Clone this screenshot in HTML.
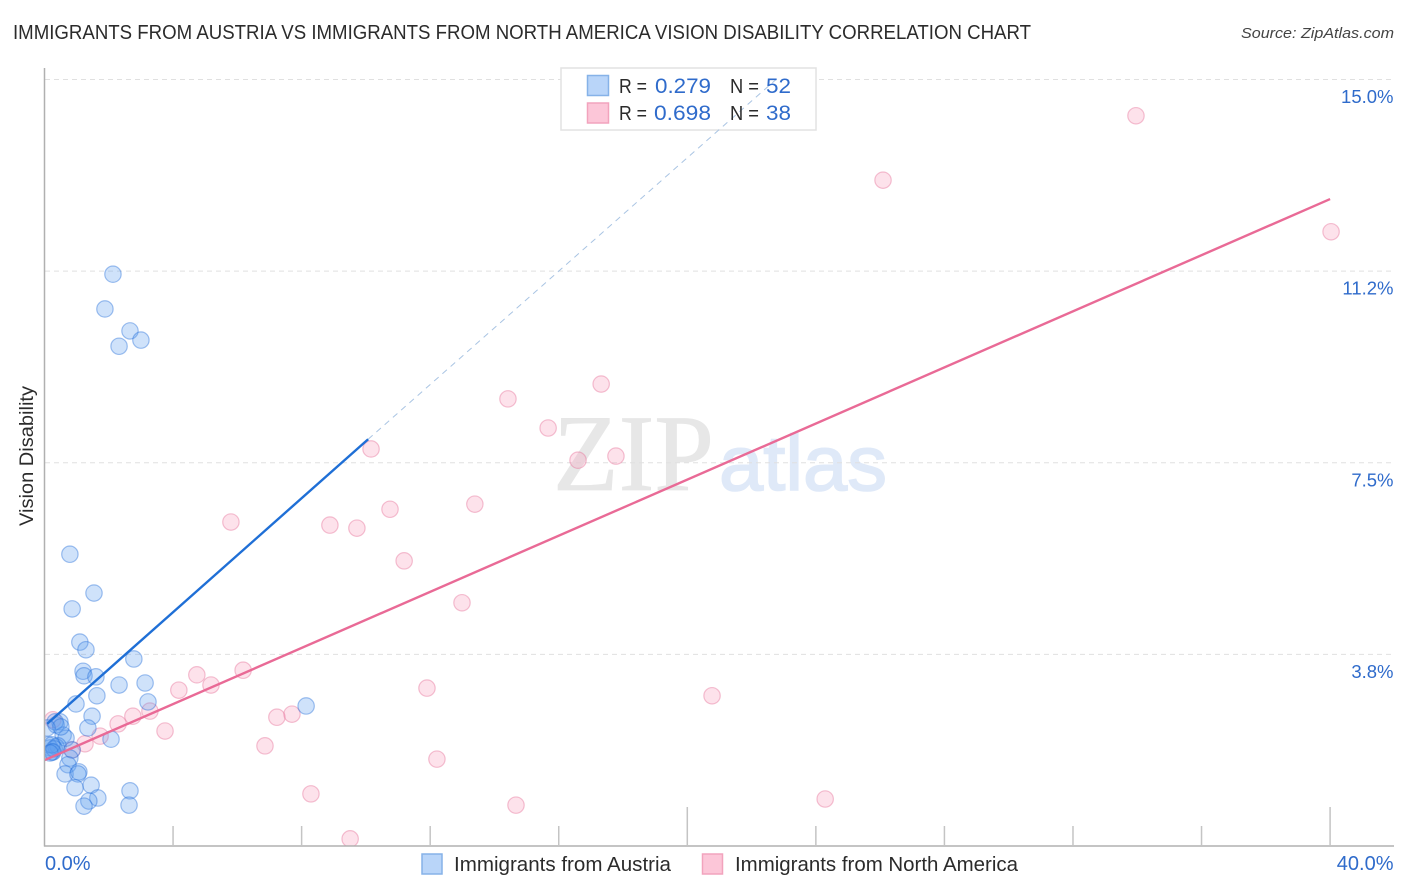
<!DOCTYPE html>
<html lang="en">
<head>
<meta charset="utf-8">
<title>Vision Disability Correlation Chart</title>
<style>
html,body{margin:0;padding:0;background:#fff;}
body{width:1406px;height:892px;overflow:hidden;}
svg{display:block;font-family:"Liberation Sans",sans-serif;}
</style>
</head>
<body>
<svg id="chart" xmlns="http://www.w3.org/2000/svg" width="1406" height="892" viewBox="0 0 1406 892">
  <defs>
    <clipPath id="plot-clip"><rect x="45" y="60" width="1349" height="786"></rect></clipPath>
  </defs>
  <rect x="0" y="0" width="1406" height="892" fill="#ffffff"></rect>
  <text x="13" y="39" font-size="20" fill="#2b2b2b" textLength="1018" lengthAdjust="spacingAndGlyphs">IMMIGRANTS FROM AUSTRIA VS IMMIGRANTS FROM NORTH AMERICA VISION DISABILITY CORRELATION CHART</text>
  <text x="1241" y="38" font-size="15" font-style="italic" fill="#444444" textLength="153" lengthAdjust="spacingAndGlyphs">Source: ZipAtlas.com</text>
  <g id="watermark">
    <text x="553" y="490" font-family="'Liberation Serif',serif" font-size="109" fill="#e7e7e7" stroke="#e7e7e7" stroke-width="0.8" textLength="161" lengthAdjust="spacingAndGlyphs">ZIP</text>
    <text x="719" y="490" font-size="78" fill="#dfe9f8" stroke="#dfe9f8" stroke-width="1.6" textLength="168" lengthAdjust="spacingAndGlyphs">atlas</text>
  </g>
  <g id="grid"></g>
  <rect x="561" y="68" width="255" height="62" fill="#ffffff" stroke="#e2e2e2" stroke-width="1.5"></rect>
  <g id="trend"></g>
  <g id="points" clip-path="url(#plot-clip)"></g>
  <g id="axes"></g>
  <text transform="translate(33 456) rotate(-90)" text-anchor="middle" font-size="19" fill="#2b2b2b" textLength="140" lengthAdjust="spacingAndGlyphs">Vision Disability</text>

  <g>
    <rect x="587.5" y="75.5" width="21" height="20" fill="#b9d5f9" stroke="#86b2e8" stroke-width="1.5"></rect>
    <text x="619" y="93" font-size="20" fill="#2b2b2b" textLength="28" lengthAdjust="spacingAndGlyphs">R =</text>
    <text x="655" y="93" font-size="21" fill="#2f6bcb" textLength="56" lengthAdjust="spacingAndGlyphs">0.279</text>
    <text x="730" y="93" font-size="20" fill="#2b2b2b" textLength="29" lengthAdjust="spacingAndGlyphs">N =</text>
    <text x="766" y="93" font-size="21" fill="#2f6bcb" textLength="25" lengthAdjust="spacingAndGlyphs">52</text>
    <rect x="587.5" y="103" width="21" height="20" fill="#fcc6d8" stroke="#f2a3bd" stroke-width="1.5"></rect>
    <text x="619" y="120" font-size="20" fill="#2b2b2b" textLength="28" lengthAdjust="spacingAndGlyphs">R =</text>
    <text x="654" y="120" font-size="21" fill="#2f6bcb" textLength="57" lengthAdjust="spacingAndGlyphs">0.698</text>
    <text x="730" y="120" font-size="20" fill="#2b2b2b" textLength="29" lengthAdjust="spacingAndGlyphs">N =</text>
    <text x="766" y="120" font-size="21" fill="#2f6bcb" textLength="25" lengthAdjust="spacingAndGlyphs">38</text>
  </g>

  <g>
    <rect x="422" y="854" width="20" height="20" fill="#b9d5f9" stroke="#86b2e8" stroke-width="1.5"></rect>
    <text x="454" y="871" font-size="20" fill="#2b2b2b" textLength="217" lengthAdjust="spacingAndGlyphs">Immigrants from Austria</text>
    <rect x="702.5" y="854" width="20" height="20" fill="#fcc6d8" stroke="#f2a3bd" stroke-width="1.5"></rect>
    <text x="735" y="871" font-size="20" fill="#2b2b2b" textLength="283" lengthAdjust="spacingAndGlyphs">Immigrants from North America</text>
  </g>
</svg>
<script>
const austriaX = [2.13,1.88,2.66,3.00,2.32,0.79,1.54,0.86,1.10,1.29,2.78,1.20,1.23,1.60,2.32,3.13,1.63,0.98,3.22,8.14,1.48,0.48,0.36,1.35,0.58,0.67,2.07,0.11,0.17,0.36,0.42,0.23,0.30,0.86,0.79,0.73,0.64,1.07,1.04,0.95,1.45,2.66,1.66,1.38,1.23,2.63,0.33,0.51,0.08,0.23,0.26,0.17];
const austriaY = [11.19,10.51,10.08,9.90,9.78,5.71,4.95,4.64,3.99,3.84,3.66,3.42,3.33,3.31,3.15,3.19,2.94,2.78,2.82,2.74,2.54,2.43,2.37,2.31,2.17,2.11,2.09,1.98,1.92,1.94,1.96,1.84,1.90,1.88,1.72,1.59,1.41,1.45,1.41,1.14,1.19,1.08,0.94,0.88,0.78,0.80,2.43,2.33,2.31,1.98,1.84,1.82];
const northAmericaX = [33.96,26.09,40.03,17.32,14.42,15.67,17.78,16.60,10.16,13.39,10.75,5.80,8.88,9.72,11.19,12.99,6.18,4.74,5.18,4.18,11.90,20.77,7.70,7.23,3.28,2.75,2.29,3.75,1.73,1.26,6.86,12.21,8.29,14.67,24.29,9.51,0.26,0.86];
const northAmericaY = [14.29,13.03,12.02,9.04,8.75,8.18,7.63,7.55,7.77,6.69,6.59,6.34,6.28,6.22,5.58,4.76,3.44,3.35,3.15,3.05,3.09,2.94,2.58,2.52,2.64,2.54,2.39,2.25,2.15,2.00,1.96,1.70,1.02,0.80,0.92,0.14,2.47,1.88];
const austriaTrendX = [0.08,10.07];
const austriaTrendY = [2.39,7.96];
const austriaDashX = [10.07,22.76];
const austriaDashY = [7.96,15.0];
const northAmericaTrendX = [0,40];
const northAmericaTrendY = [1.68,12.66];
const yTickValues = [3.75,7.5,11.25,15];
const yTickLabels = ['3.8%','7.5%','11.2%','15.0%'];
const xTickValues = [4,8,12,16,20,24,28,32,36,40];
const xMajorTicks = [20,40];
const xEndLabels = ['0.0%','40.0%'];

const NS = 'http://www.w3.org/2000/svg';
function xScale(v){ return 44.5 + v * 32.14; }
function yScale(v){ return 846 - v * 51.1; }
function make(tag, attrs, parent){
  const el = document.createElementNS(NS, tag);
  for (const k in attrs) el.setAttribute(k, attrs[k]);
  parent.appendChild(el);
  return el;
}

const grid = document.getElementById('grid');
const axes = document.getElementById('axes');
const trend = document.getElementById('trend');
const points = document.getElementById('points');

yTickValues.forEach(function(v, i){
  const line = make('line', {x1:45, x2:1393, y1:yScale(v), y2:yScale(v), stroke:'#e0e0e0', 'stroke-width':1, 'stroke-dasharray':'5 4'}, grid);
  
  
  const label = make('text', {x:1393.5, y:yScale(v)+23.5, 'text-anchor':'end', 'font-size':18.5, fill:'#2f6bcb'}, axes);
  
  
  label.textContent = yTickLabels[i];
});

const yAxis = make('line', {x1:44.5, x2:44.5, y1:68, y2:846.5, stroke:'#b0b0b0', 'stroke-width':1.5}, axes);


const xAxis = make('line', {x1:44, x2:1394, y1:846, y2:846, stroke:'#b0b0b0', 'stroke-width':1.5}, axes);



xTickValues.forEach(function(v){
  const top = xMajorTicks.indexOf(v) >= 0 ? 807 : 826;
  const tick = make('line', {x1:xScale(v), x2:xScale(v), y1:top, y2:846, stroke:'#c4c4c4', 'stroke-width':1.5}, axes);
  
  
});

const xStartLabel = make('text', {x:45, y:870, 'font-size':20, fill:'#2f6bcb'}, axes);


xStartLabel.textContent = xEndLabels[0];
const xEndLabel = make('text', {x:1393.5, y:870, 'text-anchor':'end', 'font-size':20, fill:'#2f6bcb'}, axes);


xEndLabel.textContent = xEndLabels[1];

const blueDash = make('line', {x1:xScale(austriaDashX[0]), y1:yScale(austriaDashY[0]), x2:xScale(austriaDashX[1]), y2:yScale(austriaDashY[1]), stroke:'#a9c4e3', 'stroke-width':1, 'stroke-dasharray':'6 5'}, trend);



function drawPoints(xs, ys, fill, stroke, name){
  xs.forEach(function(x, i){
    const c = make('circle', {cx:xScale(x), cy:yScale(ys[i]), r:8.2, fill:fill, stroke:stroke, 'stroke-width':1.2}, points);
    
    
  });
}
drawPoints(northAmericaX, northAmericaY, 'rgba(248,160,188,0.3)', 'rgba(228,110,150,0.42)', 'north-america-point');
drawPoints(austriaX, austriaY, 'rgba(96,158,238,0.3)', 'rgba(36,110,218,0.42)', 'austria-point');

const blueLine = make('line', {x1:xScale(austriaTrendX[0]), y1:yScale(austriaTrendY[0]), x2:xScale(austriaTrendX[1]), y2:yScale(austriaTrendY[1]), stroke:'#1f6fd6', 'stroke-width':2.4}, points);


const pinkLine = make('line', {x1:xScale(northAmericaTrendX[0]), y1:yScale(northAmericaTrendY[0]), x2:xScale(northAmericaTrendX[1]), y2:yScale(northAmericaTrendY[1]), stroke:'#e96a96', 'stroke-width':2.4}, points);


</script>
</body>
</html>
